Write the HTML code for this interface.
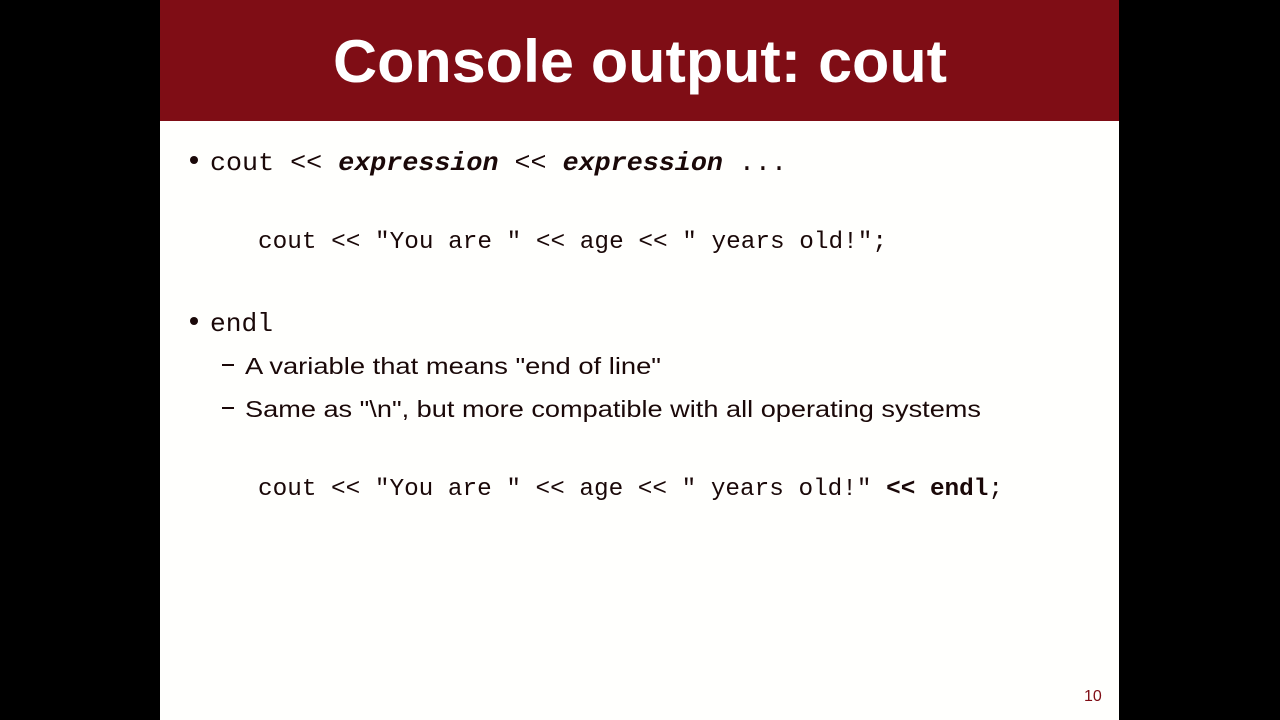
<!DOCTYPE html>
<html><head><meta charset="utf-8"><style>
html,body{margin:0;padding:0;background:#000;width:1280px;height:720px;overflow:hidden}
svg{display:block}
</style></head><body>
<svg width="1280" height="720" viewBox="0 0 1280 720" xmlns="http://www.w3.org/2000/svg">
<rect x="0" y="0" width="1280" height="720" fill="#000"/>
<rect x="160" y="0" width="959" height="720" fill="#fffffd"/>
<rect x="160" y="0" width="959" height="121" fill="#7f0d15"/>
<text x="333" y="82" font-family="Liberation Sans, sans-serif" font-weight="bold" font-size="60" fill="#fff" textLength="614" lengthAdjust="spacingAndGlyphs">Console output: cout</text>
<g fill="#1a0808" font-family="Liberation Mono, monospace">
<circle cx="194" cy="160" r="4"/>
<text x="210" y="170" font-size="26" textLength="577" lengthAdjust="spacingAndGlyphs">cout &lt;&lt; <tspan font-weight="bold" font-style="italic">expression</tspan> &lt;&lt; <tspan font-weight="bold" font-style="italic">expression</tspan> ...</text>
<text x="258" y="248" font-size="24" textLength="629" lengthAdjust="spacingAndGlyphs">cout &lt;&lt; "You are " &lt;&lt; age &lt;&lt; " years old!";</text>
<circle cx="194" cy="321" r="4"/>
<text x="210" y="331" font-size="26" textLength="63" lengthAdjust="spacingAndGlyphs">endl</text>
<text x="258" y="495" font-size="24" textLength="745" lengthAdjust="spacingAndGlyphs">cout &lt;&lt; "You are " &lt;&lt; age &lt;&lt; " years old!" <tspan font-weight="bold">&lt;&lt; endl</tspan>;</text>
</g>
<g fill="#1a0808" font-family="Liberation Sans, sans-serif" font-size="23">
<rect x="222" y="364" width="12" height="2"/>
<text x="245" y="374" textLength="416" lengthAdjust="spacingAndGlyphs">A variable that means "end of line"</text>
<rect x="222" y="407" width="12" height="2"/>
<text x="245" y="417" textLength="736" lengthAdjust="spacingAndGlyphs">Same as "\n", but more compatible with all operating systems</text>
<text x="1084" y="701" font-size="16" fill="#7f0d15">10</text>
</g>
</svg>
</body></html>
